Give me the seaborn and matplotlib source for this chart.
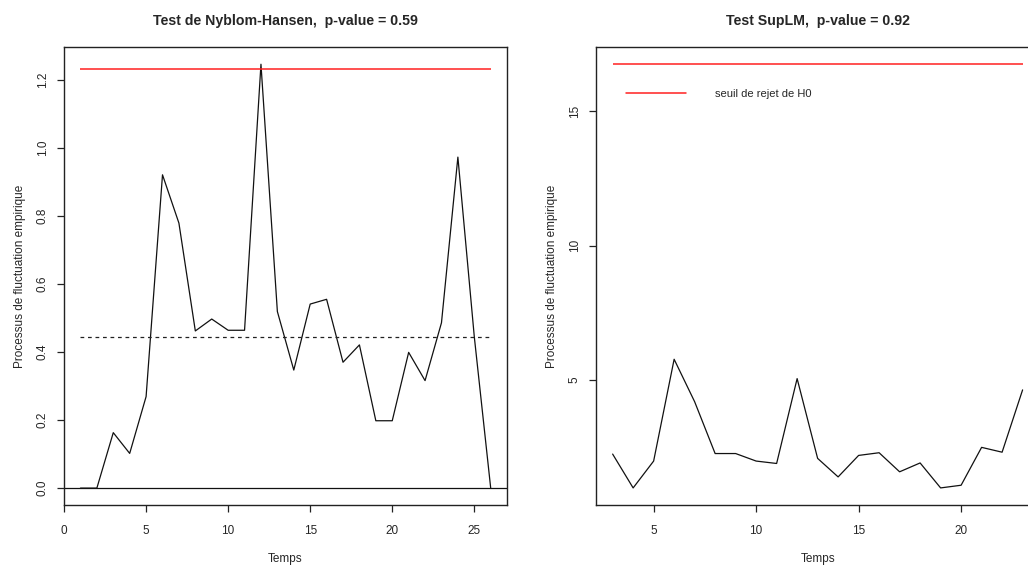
import matplotlib
matplotlib.use("Agg")
import matplotlib.pyplot as plt
import pandas as pd
import seaborn as sns
from matplotlib.lines import Line2D

# Nyblom-Hansen test: empirical fluctuation process
temps_nh = list(range(1, 27))
processus_nh = [0.0, 0.0, 0.163, 0.102, 0.269, 0.921, 0.779, 0.462, 0.497, 0.464,
                0.464, 1.246, 0.519, 0.347, 0.541, 0.555, 0.370, 0.421, 0.198, 0.198,
                0.399, 0.316, 0.486, 0.973, 0.445, 0.0]
seuil_nh = 1.232
moyenne_nh = 0.444
pvalue_nh = 0.59

# SupLM test
temps_sup = list(range(3, 24))
processus_sup = [2.24, 0.98, 1.98, 5.77, 4.19, 2.26, 2.26, 1.98, 1.89, 5.05,
                 2.08, 1.39, 2.19, 2.29, 1.58, 1.91, 0.98, 1.08, 2.49, 2.31, 4.63]
seuil_sup = 16.78
pvalue_sup = 0.92

sns.set_style("ticks")
plt.rcParams['font.family'] = ['Liberation Sans', 'DejaVu Sans']
plt.rcParams['axes.linewidth'] = 1.0
plt.rcParams['axes.edgecolor'] = '#222222'

df_nh = pd.DataFrame({'Temps': temps_nh, 'Processus': processus_nh})
df_sup = pd.DataFrame({'Temps': temps_sup, 'Processus': processus_sup})

fig = plt.figure(figsize=(10.28, 5.65), dpi=100)
ax1 = fig.add_axes([0.0623, 0.106, 0.431, 0.811])
ax2 = fig.add_axes([0.580, 0.106, 0.4307, 0.811])

# left panel
sns.lineplot(data=df_nh, x='Temps', y='Processus', ax=ax1, color='#111111', lw=0.9)
ax1.axhline(0, color='#111111', lw=0.9)
ax1.hlines(seuil_nh, temps_nh[0], temps_nh[-1], color='#ff2020', lw=1.1)
ax1.hlines(moyenne_nh, temps_nh[0], temps_nh[-1], color='#222222', lw=0.9,
           linestyles=(0, (3, 3)))
ax1.set_xlim(0, 27)
ax1.set_ylim(-0.05, 1.297)
ax1.set_xticks([0, 5, 10, 15, 20, 25])
ax1.set_yticks([0.0, 0.2, 0.4, 0.6, 0.8, 1.0, 1.2])
ax1.set_yticklabels(['0.0', '0.2', '0.4', '0.6', '0.8', '1.0', '1.2'])
ax1.set_title('Test de Nyblom-Hansen,  p-value = %.2f' % pvalue_nh,
              fontsize=10.2, fontweight='bold', pad=16)

# right panel
sns.lineplot(data=df_sup, x='Temps', y='Processus', ax=ax2, color='#111111', lw=0.9)
ax2.hlines(seuil_sup, temps_sup[0], temps_sup[-1], color='#ff2020', lw=1.1)
ax2.set_xlim(2.2, 23.8)
ax2.set_ylim(0.34, 17.4)
ax2.set_xticks([5, 10, 15, 20])
ax2.set_yticks([5, 10, 15])
ax2.set_title('Test SupLM,  p-value = %.2f' % pvalue_sup,
              fontsize=10.2, fontweight='bold', pad=16)
handle = Line2D([], [], color='#ff2020', lw=1.1)
ax2.legend([handle], ['seuil de rejet de H0'], loc='center left',
           bbox_to_anchor=(0.045, 0.898), frameon=False, fontsize=8,
           handlelength=5.4, handletextpad=2.6)

for ax in (ax1, ax2):
    ax.set_xlabel('Temps', fontsize=8.5, labelpad=12)
    ax.set_ylabel('Processus de fluctuation empirique', fontsize=8.5, labelpad=8)
    ax.tick_params(axis='both', direction='out', length=5, width=0.9,
                   labelsize=8.5, color='#222222')
    ax.tick_params(axis='x', pad=9)
    ax.tick_params(axis='y', pad=6)
    for lab in ax.get_yticklabels():
        lab.set_rotation(90)
        lab.set_va('center')
    for s in ax.spines.values():
        s.set_visible(True)

fig.savefig('out.png', dpi=100)
